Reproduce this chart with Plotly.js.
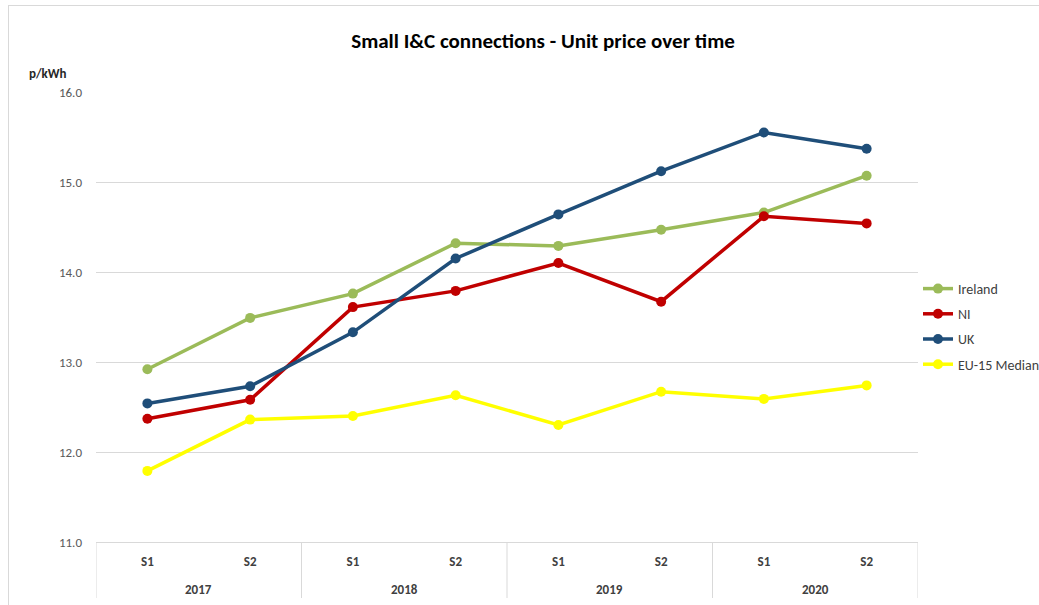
<!DOCTYPE html>
<html>
<head>
<meta charset="utf-8">
<script src="https://cdn.plot.ly/plotly-3.0.1.min.js"></script>
<style>
  html, body { margin: 0; padding: 0; background: #fff; }
  #wrap { position: relative; width: 1039px; height: 605px; }
  #chart { width: 1039px; height: 605px; }
  #frame { position: absolute; left: 8px; top: 5px; right: 0; bottom: 0;
           border-left: 1px solid #d9d9d9; border-top: 1px solid #d9d9d9; pointer-events: none; }
</style>
</head>
<body>
<div id="wrap"><div id="chart"></div><div id="frame"></div></div>
<script>
const years   = ['2017','2017','2018','2018','2019','2019','2020','2020'];
const periods = ['S1','S2','S1','S2','S1','S2','S1','S2'];
const yearGroups = ['2017','2018','2019','2020'];

const ireland  = [12.92, 13.49, 13.76, 14.32, 14.29, 14.47, 14.66, 15.07];
const ni       = [12.37, 12.58, 13.61, 13.79, 14.10, 13.67, 14.62, 14.54];
const uk       = [12.54, 12.73, 13.33, 14.15, 14.64, 15.12, 15.55, 15.37];
const eu15     = [11.79, 12.36, 12.40, 12.63, 12.30, 12.67, 12.59, 12.74];

const seriesNames  = ['Ireland', 'NI', 'UK', 'EU-15 Median'];
const seriesColors = ['#9BBB59', '#C00000', '#1F4E79', '#FFFF00'];
const seriesValues = [ireland, ni, uk, eu15];

const FONT = 'Carlito, "Liberation Sans Narrow", "Open Sans", sans-serif';

// category keys: one per period, labelled with the period on the axis
const xcat = years.map((y, i) => y + ' ' + periods[i]);

const traces = seriesValues.map((vals, i) => ({
  type: 'scatter',
  mode: 'lines+markers',
  name: seriesNames[i],
  legendgroup: 'g' + i,
  x: xcat,
  y: vals,
  line: { color: seriesColors[i], width: 3.5 },
  marker: { color: seriesColors[i], size: 10 },
  hoverinfo: 'y+name'
}));

// group dividers below the axis (at the group boundaries, including both ends)
const divH = 56 / 450;
const shapes = [];
for (let g = 0; g <= yearGroups.length; g++) {
  const xv = g * 2 - 0.5;
  shapes.push({ type: 'line', xref: 'x', yref: 'paper', x0: xv, x1: xv, y0: 0, y1: -divH,
                line: { color: '#d9d9d9', width: 1 } });
}

const annotations = yearGroups.map((yr, g) => ({
  text: '<b>' + yr + '</b>',
  xref: 'x', yref: 'paper',
  x: g * 2 + 0.5, xanchor: 'center',
  y: (542 - 589) / 450, yanchor: 'middle',
  showarrow: false,
  font: { family: FONT, size: 13, color: '#404040' }
}));
annotations.push({
  text: '<b>p/kWh</b>',
  xref: 'paper', yref: 'paper',
  x: (27 - 96) / 822, xanchor: 'left',
  y: (542 - 73) / 450, yanchor: 'middle',
  showarrow: false,
  font: { family: FONT, size: 13, color: '#262626' }
});

const layout = {
  width: 1039, height: 605,
  margin: { l: 96, r: 121, t: 92, b: 63 },
  paper_bgcolor: '#ffffff',
  plot_bgcolor: '#ffffff',
  font: { family: FONT, size: 13, color: '#595959' },
  title: {
    text: '<b>Small I&C connections - Unit price over time</b>',
    font: { family: FONT, size: 21, color: '#000000' },
    x: 543 / 1039, xanchor: 'center', xref: 'container',
    y: 1 - 41 / 605, yanchor: 'middle', yref: 'container'
  },
  xaxis: {
    type: 'category',
    range: [-0.5, xcat.length - 0.5],
    tickmode: 'array',
    tickvals: xcat,
    ticktext: periods.map(p => '<b>' + p + '</b>'),
    showgrid: false,
    showline: true, linecolor: '#d9d9d9', linewidth: 1,
    ticks: '',
    ticklabelstandoff: 7,
    tickfont: { family: FONT, size: 13, color: '#404040' },
    zeroline: false
  },
  yaxis: {
    range: [11, 16],
    dtick: 1,
    tickformat: '.1f',
    showgrid: true, gridcolor: '#d9d9d9', gridwidth: 1,
    zeroline: false,
    showline: false,
    ticks: '',
    ticklabelstandoff: 13,
    tickfont: { family: FONT, size: 13, color: '#595959' }
  },
  showlegend: true,
  legend: {
    x: 918 / 1039 , xref: 'container', xanchor: 'left',
    y: 1 - 273 / 605, yref: 'container', yanchor: 'top',
    font: { family: FONT, size: 14, color: '#404040' },
    tracegroupgap: 4,
    itemwidth: 30,
    bgcolor: 'rgba(0,0,0,0)'
  },
  shapes: shapes,
  annotations: annotations
};

Plotly.newPlot('chart', traces, layout, { displayModeBar: false, staticPlot: true });
</script>
</body>
</html>
